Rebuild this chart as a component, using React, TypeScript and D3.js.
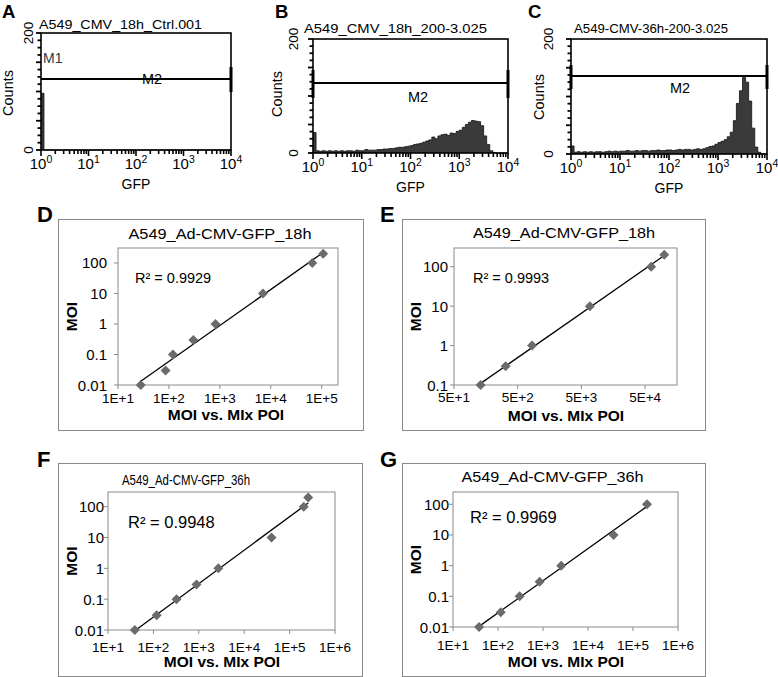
import * as d3 from 'd3';

const FONT = '"Liberation Sans", Arial, Helvetica, sans-serif';

// flow histograms: counts per 1/16-decade bin from 10^0 to 10^4
const histA = [
  97, 0, 0, 0, 0, 0, 0, 0, 0, 0, 0, 0, 0, 0, 0, 0,
  0, 0, 0, 0, 0, 0, 0, 0, 0, 0, 0, 0, 0, 0, 0, 0,
  0, 0, 0, 0, 0, 0, 0, 0, 0, 0, 0, 0, 0, 0, 0, 0,
  0, 0, 0, 0, 0, 0, 0, 0, 0, 0, 0, 0, 0, 0, 0, 0,
];
const histB = [
  36, 4, 3, 4, 3, 4, 3, 4, 3, 4, 3, 4, 4, 3, 5, 4,
  4, 6, 5, 5, 5, 6, 6, 7, 7, 8, 8, 9, 10, 10, 11, 12,
  13, 15, 16, 17, 19, 21, 23, 28, 25, 30, 32, 33, 31, 35, 34, 38,
  40, 45, 50, 54, 57, 56, 55, 48, 30, 15, 4, 1, 0, 0, 0, 0,
];
const histC = [
  14, 3, 4, 3, 4, 3, 4, 3, 4, 4, 3, 4, 5, 4, 5, 4,
  5, 5, 6, 5, 5, 6, 5, 6, 6, 5, 6, 6, 7, 6, 6, 7,
  7, 6, 7, 8, 7, 8, 8, 7, 8, 9, 8, 9, 11, 13, 14, 17,
  20, 22, 25, 30, 38, 58, 88, 110, 133, 125, 92, 45, 12, 3, 0, 0,
];
const flowDecades = [0, 1, 2, 3, 4];

// MOI vs. MIx POI
const moiD = [0.01, 0.03, 0.1, 0.3, 1, 10, 100, 200];
const poiD = [28, 86, 120, 302, 822, 7020, 65300, 107000];
const moiE = [0.1, 0.3, 1, 10, 100, 200];
const poiE = [131, 323, 841, 6800, 62200, 100000];
const moiF = [0.01, 0.03, 0.1, 0.3, 1, 10, 100, 200];
const poiF = [39, 118, 323, 890, 2700, 40000, 205000, 257000];
const moiG = [0.01, 0.03, 0.1, 0.3, 1, 10, 100];
const poiG = [38, 115, 302, 841, 2540, 37000, 205000];

const yTicksMoi = [0.01, 0.1, 1, 10, 100];
const yTicksE = [0.1, 1, 10, 100];
const xTicksD = [1e1, 1e2, 1e3, 1e4, 1e5];
const xTicksE = [5e1, 5e2, 5e3, 5e4];
const xTicksFG = [1e1, 1e2, 1e3, 1e4, 1e5, 1e6];

type Box = { x0: number; y0: number; x1: number; y1: number };

interface FlowProps {
  letter: string;
  lx: number;
  title: string;
  tx: number;
  ty: number;
  tw: number;
  box: Box;
  hist: number[];
  m2y: number;
  barTop: number;
  barBottom: number;
  leftBar: boolean;
  m2x: number;
  m2by: number;
  countsX: number;
  countsY: number;
  numX: number;
}

function FlowPanel(p: FlowProps) {
  const { box } = p;
  const x = d3.scaleLog().domain([1, 1e4]).range([box.x0, box.x1]);
  const y = d3.scaleLinear().domain([0, 200]).range([box.y1, box.y0]);
  const bins = p.hist.map((c, i) => ({ lo: Math.pow(10, i / 16), c }));
  bins.push({ lo: 1e4, c: 0 });
  const area = d3.area<{ lo: number; c: number }>()
    .x(d => x(d.lo)).y0(y(0)).y1(d => y(d.c)).curve(d3.curveStepAfter);
  const outline = d3.line<{ lo: number; c: number }>()
    .x(d => x(d.lo)).y(d => y(d.c)).curve(d3.curveStepAfter);

  const minor: { v: number; major: boolean }[] = [];
  flowDecades.slice(0, 4).forEach(dec => {
    for (let m = 1; m <= 9; m++) minor.push({ v: m * Math.pow(10, dec), major: m === 1 });
  });
  minor.push({ v: 1e4, major: true });
  const countTicks = d3.range(0, 200.1, 12.5);

  return (
    <g fontFamily={FONT}>
      <text x={p.lx} y={18} fontSize={18.5} fontWeight="bold">{p.letter}</text>
      <text x={p.tx} y={p.ty} fontSize={12.5} textLength={p.tw} lengthAdjust="spacingAndGlyphs">{p.title}</text>
      <path d={area(bins) || ''} fill="#3a3a3a" />
      <path d={outline(bins) || ''} fill="none" stroke="#111" strokeWidth={0.8} />
      <rect x={box.x0} y={box.y0} width={box.x1 - box.x0} height={box.y1 - box.y0}
        fill="none" stroke="#000" strokeWidth={1.6} />
      {countTicks.map((t, i) => (
        <line key={i} x1={box.x0 - (t % 50 === 0 ? 5 : 3.5)} x2={box.x0}
          y1={y(t)} y2={y(t)} stroke="#000" strokeWidth={1.8} />
      ))}
      {minor.map((t, i) => (
        <line key={i} x1={x(t.v)} x2={x(t.v)} y1={box.y1} y2={box.y1 + (t.major ? 6 : 4)}
          stroke="#000" strokeWidth={1.6} />
      ))}
      {flowDecades.map(k => (
        <text key={k} x={x(Math.pow(10, k))} y={box.y1 + 19} fontSize={15} textAnchor="middle">
          10<tspan dy={-6.5} fontSize={10.5}>{k}</tspan>
        </text>
      ))}
      <text x={(box.x0 + box.x1) / 2} y={box.y1 + 39} fontSize={14} textAnchor="middle">GFP</text>
      <text transform={`translate(${p.countsX},${p.countsY}) rotate(-90)`} fontSize={14.5}
        textAnchor="middle" dominantBaseline="central">Counts</text>
      <text transform={`translate(${p.numX},${box.y0}) rotate(-90)`} fontSize={13.5}
        textAnchor="middle" dominantBaseline="central">200</text>
      <text transform={`translate(${p.numX},${box.y1}) rotate(-90)`} fontSize={13.5}
        textAnchor="middle" dominantBaseline="central">0</text>
      {/* M2 marker */}
      <line x1={box.x0} x2={box.x1} y1={p.m2y} y2={p.m2y} stroke="#000" strokeWidth={2} />
      <line x1={box.x1} x2={box.x1} y1={p.barTop} y2={p.barBottom} stroke="#000" strokeWidth={3} />
      {p.leftBar && (
        <line x1={box.x0} x2={box.x0} y1={p.barTop} y2={p.barBottom} stroke="#000" strokeWidth={3} />
      )}
      <text x={p.m2x} y={p.m2by} fontSize={14.5} textAnchor="middle">M2</text>
    </g>
  );
}

interface ScatterProps {
  letter: string;
  lx: number;
  ly: number;
  outer: Box;
  plot: Box;
  xDomain: [number, number];
  yDomain: [number, number];
  xTicks: number[];
  yTicks: number[];
  xs: number[];
  ys: number[];
  title: string;
  titleX: number;
  titleY: number;
  titleW: number;
  r2: string;
  r2X: number;
  r2Y: number;
  r2Size: number;
  xTickY: number;
  xTitleX: number;
  xTitleY: number;
  yTitleX: number;
  yTickRight: number;
}

function ScatterPanel(p: ScatterProps) {
  const { plot, outer } = p;
  const x = d3.scaleLog().domain(p.xDomain).range([plot.x0, plot.x1]);
  const y = d3.scaleLog().domain(p.yDomain).range([plot.y1, plot.y0]);
  const pts = p.xs.map((v, i) => ({ x: v, y: p.ys[i] }));

  // power trendline (least squares in log-log space)
  const lx = pts.map(d => Math.log10(d.x));
  const ly = pts.map(d => Math.log10(d.y));
  const mx = d3.mean(lx)!;
  const my = d3.mean(ly)!;
  const b = d3.sum(lx, (v, i) => (v - mx) * (ly[i] - my)) / d3.sum(lx, v => (v - mx) ** 2);
  const a = my - b * mx;
  const xMin = d3.min(p.xs)!;
  const xMax = d3.max(p.xs)!;
  const fit = (v: number) => Math.pow(10, a + b * Math.log10(v));

  const diamond = d3.symbol(d3.symbolSquare, 50)() || '';
  const fmtX = (v: number) => {
    const e = Math.floor(Math.log10(v) + 1e-9);
    const m = Math.round(v / Math.pow(10, e));
    return `${m}E+${e}`;
  };
  const axisGray = '#8a8a8a';

  return (
    <g fontFamily={FONT}>
      <text x={p.lx} y={p.ly} fontSize={22} fontWeight="bold">{p.letter}</text>
      <rect x={outer.x0 + 0.5} y={outer.y0 + 0.5} width={outer.x1 - outer.x0} height={outer.y1 - outer.y0}
        fill="#fff" stroke={axisGray} strokeWidth={1} />
      <text x={p.titleX - p.titleW / 2} y={p.titleY} fontSize={15} textLength={p.titleW}
        lengthAdjust="spacingAndGlyphs">{p.title}</text>
      <rect x={plot.x0} y={plot.y0} width={plot.x1 - plot.x0} height={plot.y1 - plot.y0}
        fill="none" stroke={axisGray} strokeWidth={1} />
      {p.yTicks.map((t, i) => (
        <g key={i}>
          <line x1={plot.x0 - 4} x2={plot.x0} y1={y(t)} y2={y(t)} stroke={axisGray} />
          <text x={p.yTickRight} y={y(t)} fontSize={15} textAnchor="end" dominantBaseline="central">
            {String(t)}
          </text>
        </g>
      ))}
      {p.xTicks.map((t, i) => (
        <g key={i}>
          <line x1={x(t)} x2={x(t)} y1={plot.y1} y2={plot.y1 + 4} stroke={axisGray} />
          <text x={x(t)} y={p.xTickY} fontSize={13.5} textAnchor="middle">{fmtX(t)}</text>
        </g>
      ))}
      <line x1={x(xMin)} y1={y(fit(xMin))} x2={x(xMax)} y2={y(fit(xMax))} stroke="#000" strokeWidth={1.3} />
      {pts.map((d, i) => (
        <path key={i} d={diamond} transform={`translate(${x(d.x)},${y(d.y)}) rotate(45)`} fill="#6b6b6b" />
      ))}
      <text x={p.r2X} y={p.r2Y} fontSize={p.r2Size}>R² = {p.r2}</text>
      <text x={p.xTitleX} y={p.xTitleY} fontSize={15.5} fontWeight="bold" textAnchor="middle">
        MOI vs. MIx POI
      </text>
      <text transform={`translate(${p.yTitleX},${(plot.y0 + plot.y1) / 2}) rotate(-90)`} fontSize={15.5}
        fontWeight="bold" textAnchor="middle" dominantBaseline="central">MOI</text>
    </g>
  );
}

export default function App() {
  return (
    <svg width={778} height={677} style={{ position: 'absolute', left: 0, top: 0, background: '#fff' }}>
      <rect width={778} height={677} fill="#fff" />
      <FlowPanel letter="A" lx={2} title="A549_CMV_18h_Ctrl.001" tx={39} ty={29} tw={163}
        box={{ x0: 41, y0: 33, x1: 231, y1: 150 }} hist={histA}
        m2y={79} barTop={67} barBottom={92} leftBar={false} m2x={152} m2by={84}
        countsX={8} countsY={93} numX={28} />
      <text x={43} y={63} fontSize={14} fontFamily={FONT} fill="#2a3a44">M1</text>
      <FlowPanel letter="B" lx={275} title="A549_CMV_18h_200-3.025" tx={304} ty={33} tw={183}
        box={{ x0: 313, y0: 39, x1: 508, y1: 153 }} hist={histB}
        m2y={83} barTop={70} barBottom={98} leftBar={true} m2x={418} m2by={102}
        countsX={277} countsY={94} numX={293} />
      <FlowPanel letter="C" lx={528} title="A549-CMV-36h-200-3.025" tx={574} ty={33} tw={154}
        box={{ x0: 571, y0: 39, x1: 767, y1: 154 }} hist={histC}
        m2y={76} barTop={65} barBottom={89} leftBar={true} m2x={680} m2by={93}
        countsX={539} countsY={97} numX={548} />

      <ScatterPanel letter="D" lx={37} ly={222}
        outer={{ x0: 58, y0: 219, x1: 363, y1: 430 }} plot={{ x0: 118, y0: 248, x1: 338, y1: 385 }}
        xDomain={[10, Math.pow(10, 5.32)]} yDomain={[0.01, Math.pow(10, 2.49)]}
        xTicks={xTicksD} yTicks={yTicksMoi} xs={poiD} ys={moiD}
        title="A549_Ad-CMV-GFP_18h" titleX={220} titleY={238.5} titleW={183}
        r2="0.9929" r2X={135} r2Y={283} r2Size={14.5}
        xTickY={403} xTitleX={226} xTitleY={419.5} yTitleX={71.5} yTickRight={107} />
      <ScatterPanel letter="E" lx={380} ly={222}
        outer={{ x0: 402, y0: 219, x1: 705, y1: 430 }} plot={{ x0: 454, y0: 248, x1: 677, y1: 385 }}
        xDomain={[50, Math.pow(10, 5.2)]} yDomain={[0.1, Math.pow(10, 2.475)]}
        xTicks={xTicksE} yTicks={yTicksE} xs={poiE} ys={moiE}
        title="A549_Ad-CMV-GFP_18h" titleX={564} titleY={238} titleW={182}
        r2="0.9993" r2X={473} r2Y={283} r2Size={14.5}
        xTickY={402} xTitleX={566} xTitleY={421} yTitleX={415} yTickRight={448} />
      <ScatterPanel letter="F" lx={37} ly={467}
        outer={{ x0: 58, y0: 463, x1: 362, y1: 676 }} plot={{ x0: 108, y0: 492, x1: 335, y1: 630 }}
        xDomain={[10, 1e6]} yDomain={[0.01, Math.pow(10, 2.477)]}
        xTicks={xTicksFG} yTicks={yTicksMoi} xs={poiF} ys={moiF}
        title="A549_Ad-CMV-GFP_36h" titleX={186} titleY={485} titleW={128}
        r2="0.9948" r2X={128} r2Y={528} r2Size={16.5}
        xTickY={651.5} xTitleX={222} xTitleY={667} yTitleX={71.5} yTickRight={104} />
      <ScatterPanel letter="G" lx={380} ly={467}
        outer={{ x0: 402, y0: 463, x1: 705, y1: 676 }} plot={{ x0: 453, y0: 492, x1: 678, y1: 627 }}
        xDomain={[10, 1e6]} yDomain={[0.01, Math.pow(10, 2.4)]}
        xTicks={xTicksFG} yTicks={yTicksMoi} xs={poiG} ys={moiG}
        title="A549_Ad-CMV-GFP_36h" titleX={552.5} titleY={481.5} titleW={182}
        r2="0.9969" r2X={470} r2Y={523} r2Size={16.5}
        xTickY={650} xTitleX={566} xTitleY={667} yTitleX={415} yTickRight={449} />
    </svg>
  );
}
